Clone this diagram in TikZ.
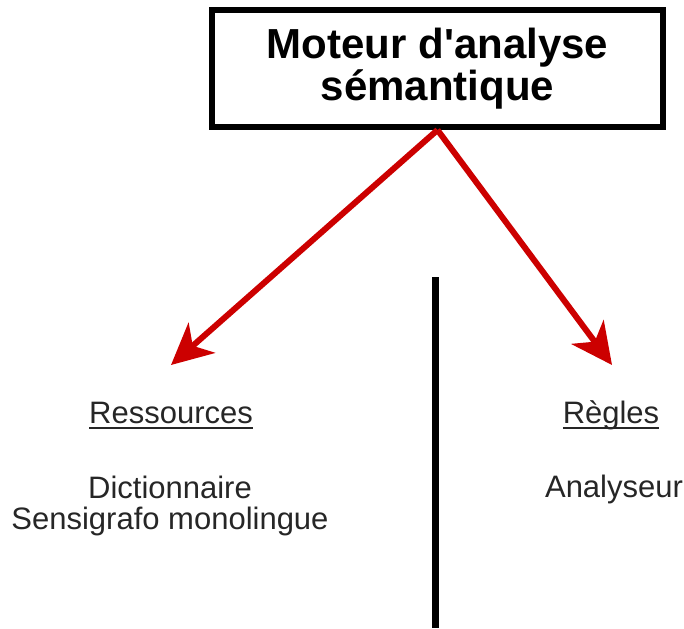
\documentclass[tikz,border=0pt]{standalone}
\usepackage{fontspec}
\setmainfont{Liberation Sans}[Ligatures=TeXOff]
\usetikzlibrary{arrows.meta}
\definecolor{flechered}{HTML}{CC0000}
\newcommand{\souligne}[1]{\setbox0\hbox{#1}\rlap{\raisebox{-6pt}{\rule{\wd0}{2pt}}}\box0}

\begin{document}
\begin{tikzpicture}[x=1pt,y=-1pt,
    titre/.style={draw=black, line width=6pt, minimum width=451pt, minimum height=117pt, align=center,
      font=\fontsize{42}{42}\selectfont\bfseries},
    txt/.style={inner sep=0pt, anchor=base, align=center, text=black!85,
      font=\fontsize{31}{31}\selectfont},
    fleche/.style={draw=flechered, line width=6pt, -{Stealth[length=41pt,width=40pt,inset=12pt]}}]
    \useasboundingbox (0,0) rectangle (684,628);
    \node[titre] (M) at (437.5,68.5) {Moteur d'analyse\\s\'emantique};
    \coordinate (R) at (171,365);
    \coordinate (RR) at (612,365);
    \coordinate (S) at (435,277);
    \coordinate (SS) at (435,628);
    \node[txt] (A) at (171,423) {\souligne{Ressources}};
    \node[txt] (AA) at (170,529) {Dictionnaire\\Sensigrafo monolingue};
    \node[txt] (B) at (611,423) {\souligne{R\`egles}};
    \node[txt] (BB) at (614,497) {Analyseur};
    %
    \draw[fleche] (M.south) -- (R);
    \draw[fleche] (M.south) -- (RR);
    \draw[line width=7pt] (S) -- (SS);
  \end{tikzpicture}
\end{document}
